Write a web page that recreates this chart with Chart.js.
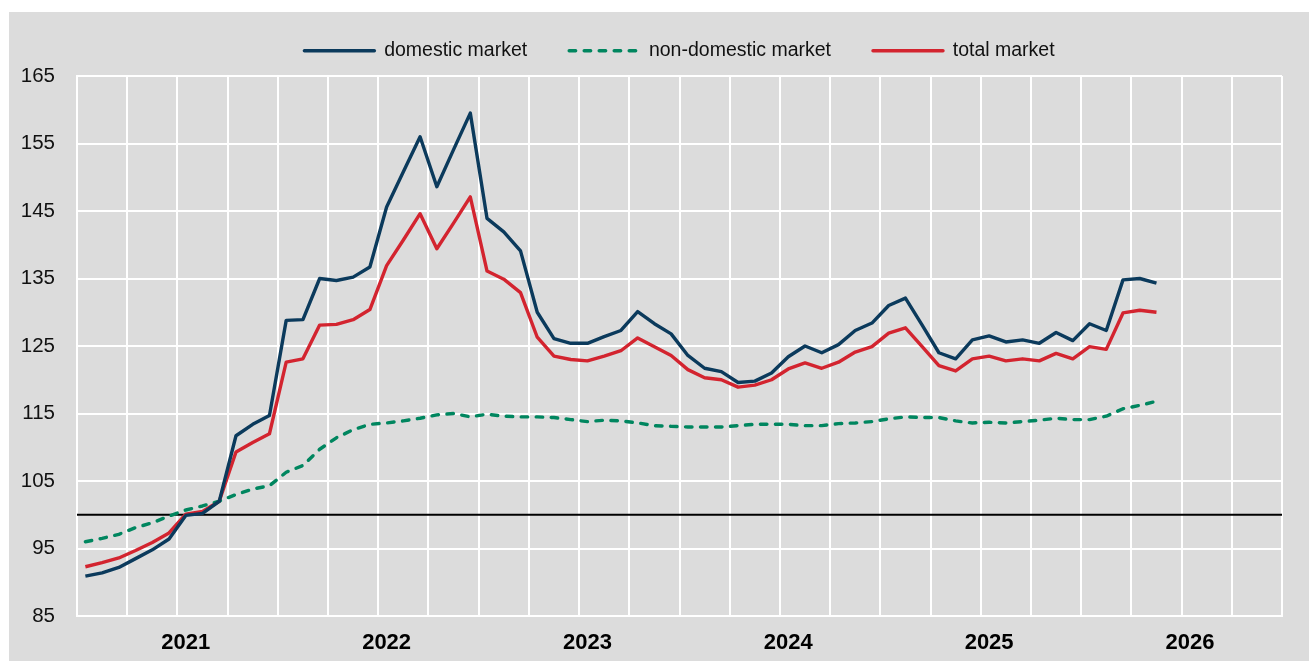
<!DOCTYPE html>
<html>
<head>
<meta charset="utf-8">
<script src="https://cdn.jsdelivr.net/npm/chart.js@4"></script>
<style>
  html, body { margin: 0; padding: 0; background: #fff; }
  #wrap { position: absolute; left: 9px; top: 12px; width: 1300px; height: 649px; background: #dcdcdc; }
</style>
</head>
<body>
<div id="wrap"><canvas id="marketChart" width="1300" height="649"></canvas></div>
<script>
// monthly index, Jul 2020 - Nov 2025; axis runs to Jun 2026
const startYear = 2020
const startMonth = 7
const monthCount = 72

const domestic = [
  90.9, 91.4, 92.2, 93.5, 94.8, 96.4, 99.9, 100.2, 102.0, 111.7,
  113.4, 114.7, 128.8, 128.9, 135.0, 134.7, 135.2, 136.7, 145.6, 150.8,
  156.0, 148.6, 154.1, 159.5, 143.9, 141.9, 139.1, 130.0, 126.1, 125.4,
  125.4, 126.4, 127.3, 130.1, 128.3, 126.8, 123.6, 121.7, 121.2, 119.6,
  119.8, 121.0, 123.4, 125.0, 124.0, 125.2, 127.3, 128.4, 131.0, 132.1,
  128.1, 124.0, 123.1, 125.9, 126.5, 125.6, 125.9, 125.4, 127.0, 125.8,
  128.3, 127.3, 134.8, 135.0, 134.3
]

const nonDomestic = [
  96.0, 96.5, 97.1, 98.1, 98.8, 99.8, 100.7, 101.3, 102.0, 103.0,
  103.8, 104.3, 106.3, 107.3, 109.7, 111.4, 112.6, 113.4, 113.6, 113.9,
  114.3, 114.8, 115.0, 114.5, 114.9, 114.6, 114.5, 114.5, 114.4, 114.1,
  113.8, 114.0, 113.9, 113.6, 113.2, 113.1, 113.0, 113.0, 113.0, 113.2,
  113.4, 113.4, 113.4, 113.2, 113.2, 113.5, 113.6, 113.8, 114.2, 114.5,
  114.4, 114.4, 113.9, 113.6, 113.7, 113.6, 113.8, 114.0, 114.3, 114.1,
  114.1, 114.6, 115.7, 116.2, 116.8
]

const total = [
  92.3, 92.9, 93.6, 94.7, 95.9, 97.3, 100.1, 100.5, 102.0, 109.3,
  110.7, 112.0, 122.6, 123.1, 128.1, 128.2, 128.9, 130.4, 136.9, 140.7,
  144.6, 139.4, 143.2, 147.1, 136.1, 134.9, 132.9, 126.3, 123.5, 123.0,
  122.8, 123.5, 124.3, 126.2, 124.9, 123.6, 121.5, 120.3, 120.0, 118.9,
  119.2, 120.0, 121.6, 122.5, 121.7, 122.6, 124.1, 124.9, 126.9, 127.7,
  124.9, 122.1, 121.3, 123.1, 123.5, 122.8, 123.1, 122.8, 123.9, 123.1,
  124.9, 124.5, 129.9, 130.3, 130.0
]

const baseline = 100
const yMin = 85
const yMax = 165
const yStep = 10

const labels = []
for (let i = 0; i < monthCount; i++) {
  const m = (startMonth - 1 + i) % 12 + 1
  const y = startYear + Math.floor((startMonth - 1 + i) / 12)
  labels.push(y + '-' + String(m).padStart(2, '0'))
}

const font = "'Liberation Sans', Arial, sans-serif"

const baselinePlugin = {
  id: 'baseline',
  beforeDatasetsDraw(chart) {
    const { ctx, chartArea, scales } = chart
    const y = scales.y.getPixelForValue(baseline)
    ctx.save()
    ctx.strokeStyle = '#000'
    ctx.lineWidth = 2
    ctx.beginPath()
    ctx.moveTo(chartArea.left, y)
    ctx.lineTo(chartArea.right, y)
    ctx.stroke()
    ctx.restore()
  }
}

// keep the legend band a fixed height so the plot top lands where it should
const legendHeight = {
  id: 'legendHeight',
  afterInit(chart) {
    const fit = chart.legend.fit
    chart.legend.fit = function () {
      fit.call(this)
      this.height = 77
    }
  }
}

function lineSet(label, data, color, dash) {
  return {
    label: label,
    data: data,
    borderColor: color,
    backgroundColor: color,
    borderWidth: 3.4,
    borderDash: dash,
    borderCapStyle: dash.length ? 'round' : 'butt',
    borderJoinStyle: 'round',
    pointRadius: 0,
    pointHoverRadius: 0,
    pointStyle: 'line',
    tension: 0,
    fill: false
  }
}

new Chart(document.querySelector('#marketChart'), {
  type: 'line',
  data: {
    labels: labels,
    datasets: [
      lineSet('domestic market', domestic, '#0b3a5c', []),
      lineSet('non-domestic market', nonDomestic, '#00865f', [6.5, 8.5]),
      lineSet('total market', total, '#d3242f', [])
    ]
  },
  plugins: [baselinePlugin, legendHeight],
  options: {
    responsive: false,
    animation: false,
    layout: {
      padding: { top: -13, left: 0, right: 27, bottom: 0 }
    },
    plugins: {
      legend: {
        position: 'top',
        align: 'center',
        fullSize: false,
        labels: {
          usePointStyle: true,
          pointStyleWidth: 70,
          padding: 42,
          color: '#111',
          font: { family: font, size: 19.5 },
          generateLabels(chart) {
            const items = Chart.defaults.plugins.legend.labels.generateLabels(chart)
            items.forEach((item, i) => {
              const ds = chart.data.datasets[i]
              item.lineDash = ds.borderDash
              item.lineWidth = ds.borderWidth
              item.lineCap = 'round'
            })
            return items
          }
        }
      },
      tooltip: { enabled: false }
    },
    scales: {
      x: {
        type: 'category',
        offset: true,
        afterFit(scale) { scale.height = 45 },
        grid: {
          offset: true,
          drawTicks: false,
          lineWidth: 2,
          color(ctx) {
            if (ctx.type !== 'tick') return '#fff'
            return ctx.index % 3 === 0 ? '#fff' : 'rgba(0,0,0,0)'
          }
        },
        border: { display: true, color: '#fff', width: 2 },
        ticks: {
          autoSkip: false,
          maxRotation: 0,
          padding: 14,
          color: '#000',
          font: { family: font, size: 22, weight: 'bold' },
          callback(value, index) {
            const l = labels[index]
            return l.slice(5) === '01' ? l.slice(0, 4) : ''
          }
        }
      },
      y: {
        min: yMin,
        max: yMax,
        afterFit(scale) { scale.width = 68 },
        grid: { color: '#fff', lineWidth: 2, drawTicks: false },
        border: { display: true, color: '#fff', width: 2 },
        ticks: {
          stepSize: yStep,
          padding: 22,
          color: '#111',
          font: { family: font, size: 20.5 }
        }
      }
    }
  }
})
</script>
</body>
</html>
